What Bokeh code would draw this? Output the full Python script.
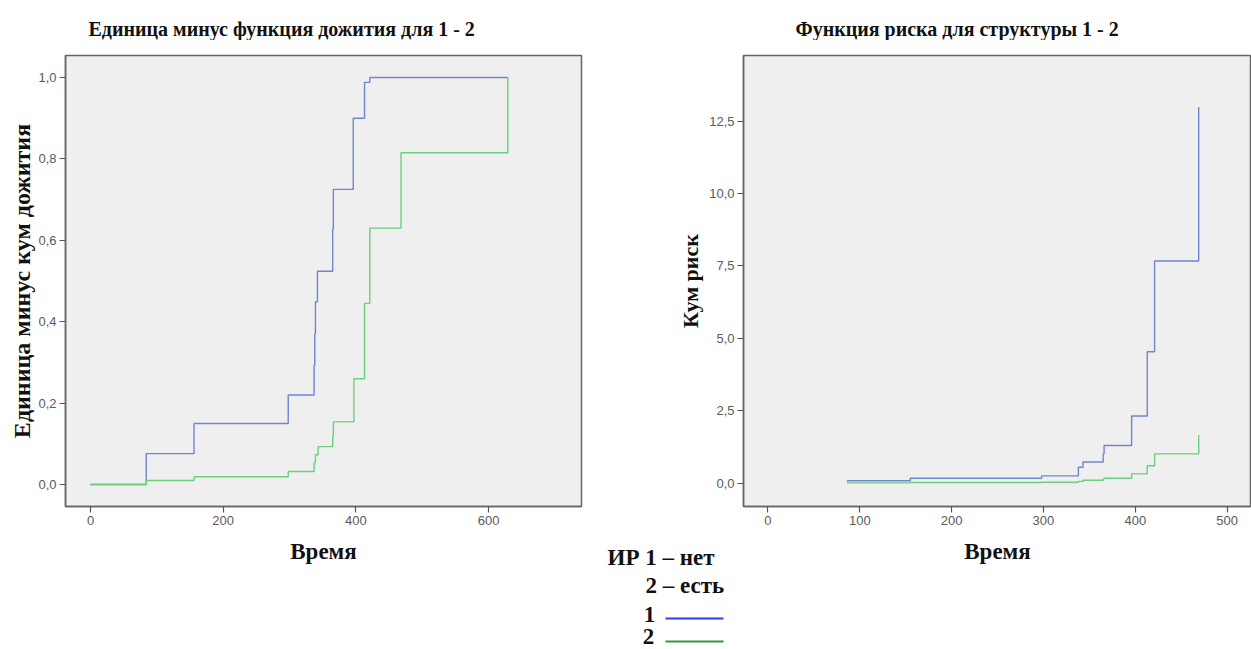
from bokeh.plotting import figure
from bokeh.models import Range1d, FixedTicker, CustomJSTickFormatter
from bokeh.layouts import row, column
from bokeh.core.properties import value
from bokeh.embed import file_html
from bokeh.resources import INLINE

# ---- data ----
left_title = "Единица минус функция дожития для 1 - 2"
right_title = "Функция риска для структуры 1 - 2"
left_ylabel = "Единица минус кум дожития"
right_ylabel = "Кум риск"
xlabel = "Время"

surv_t1 = [0, 84, 156, 298, 337, 338, 339, 342, 365, 366, 396, 413, 421, 629]
surv_v1 = [0.0, 0.076, 0.150, 0.220, 0.293, 0.370, 0.449, 0.524, 0.628, 0.725, 0.900, 0.988, 1.0, 1.0]
surv_t2 = [0, 84, 156, 298, 337, 339, 343, 365, 366, 397, 413, 421, 468, 629]
surv_v2 = [0.0, 0.010, 0.019, 0.032, 0.054, 0.073, 0.093, 0.118, 0.154, 0.260, 0.445, 0.630, 0.815, 1.0]

haz_t1 = [86, 155, 298, 338, 343, 365, 366, 396, 413, 421, 469]
haz_v1 = [0.08, 0.17, 0.25, 0.55, 0.73, 1.01, 1.30, 2.32, 4.54, 7.67, 12.99]
haz_t2 = [86, 155, 298, 338, 343, 365, 366, 396, 413, 421, 469]
haz_v2 = [0.01, 0.02, 0.03, 0.06, 0.10, 0.13, 0.17, 0.32, 0.60, 1.01, 1.66]

left_xticks = [0, 200, 400, 600]
left_yticks = [0.0, 0.2, 0.4, 0.6, 0.8, 1.0]
right_xticks = [0, 100, 200, 300, 400, 500]
right_yticks = [0.0, 2.5, 5.0, 7.5, 10.0, 12.5]

legend_head = "ИР 1 – нет"
legend_head2 = "2 – есть"
groups = ["1", "2"]

# ---- styles ----
BLUE = "#7085cf"
GREEN = "#6ccf7c"
LEG_COLORS = ["#2f3fe6", "#2e9a3c"]
SERIF = "Liberation Serif"
SANS = "Liberation Sans"
comma_fmt = CustomJSTickFormatter(code="return tick.toFixed(1).replace('.', ',');")
TOP = 40          # height of the title strip
H = 600           # height of the chart row


def bare(p):
    p.axis.visible = False
    p.grid.visible = False
    p.background_fill_alpha = 0
    p.border_fill_alpha = 0
    p.outline_line_color = None


def style(p, xt, yt, yfmt, label_size):
    p.background_fill_color = "#efefef"
    p.border_fill_color = "white"
    p.outline_line_color = "#666666"
    p.outline_line_width = 1.5
    p.xgrid.visible = False
    p.ygrid.visible = False
    p.xaxis.ticker = FixedTicker(ticks=xt)
    p.yaxis.ticker = FixedTicker(ticks=yt)
    p.yaxis.formatter = yfmt
    for ax in (p.xaxis[0], p.yaxis[0]):
        ax.axis_line_color = "#666666"
        ax.axis_line_width = 1.5
        ax.major_tick_line_color = "#555555"
        ax.major_tick_line_width = 1.2
        ax.major_tick_out = 6
        ax.major_tick_in = 0
        ax.minor_tick_line_color = None
        ax.major_label_text_font = SANS
        ax.major_label_text_font_size = "13px"
        ax.major_label_text_color = "#5a5a5a"
        ax.axis_label_text_font = SERIF
        ax.axis_label_text_font_style = "bold"
        ax.axis_label_text_font_size = "23px"
        ax.axis_label_text_color = "#111111"
        ax.major_label_standoff = 3
    p.yaxis.axis_label_text_font_size = label_size


# title strip
tb = figure(width=1251, height=TOP, output_backend="svg", toolbar_location=None,
            x_range=Range1d(0, 1251), y_range=Range1d(TOP, 0), min_border=0)
bare(tb)
ttl = dict(text_font=value(SERIF), text_font_style="bold", text_font_size="20px",
           text_color="#111111", text_baseline="middle", text_align="left")
tb.text(x=[88, 795], y=[28, 28], text=[left_title, right_title], **ttl)

# left figure
p1 = figure(width=605, height=H, output_backend="svg", toolbar_location=None,
            x_range=Range1d(-37.7, 740), y_range=Range1d(-0.054, 1.054),
            min_border_left=65, min_border_right=24, min_border_top=52 - TOP,
            min_border_bottom=TOP + H - 506,
            x_axis_label=xlabel, y_axis_label=left_ylabel)
style(p1, left_xticks, left_yticks, comma_fmt, "24px")
p1.xaxis.axis_label_standoff = 11
p1.yaxis.axis_label_standoff = 0
p1.step(surv_t1, surv_v1, mode="after", line_color=BLUE, line_width=1.4)
p1.step(surv_t2, surv_v2, mode="after", line_color=GREEN, line_width=1.4)

# right figure
p2 = figure(width=646, height=H, output_backend="svg", toolbar_location=None,
            x_range=Range1d(-26.6, 526.5), y_range=Range1d(-0.807, 14.77),
            min_border_left=138, min_border_right=0, min_border_top=55 - TOP,
            min_border_bottom=TOP + H - 507,
            x_axis_label=xlabel, y_axis_label=right_ylabel)
style(p2, right_xticks, right_yticks, comma_fmt, "22px")
p2.xaxis.axis_label_standoff = 11
p2.yaxis.axis_label_standoff = 3
p2.step(haz_t1, haz_v1, mode="after", line_color=BLUE, line_width=1.4)
p2.step(haz_t2, haz_v2, mode="after", line_color=GREEN, line_width=1.4)

# legend figure (overlaps the bottom of the chart row)
LW, LH = 130, 104
leg = figure(width=LW, height=LH, output_backend="svg", toolbar_location=None,
             x_range=Range1d(0, LW), y_range=Range1d(LH, 0), min_border=0)
bare(leg)
tkw = dict(text_font=value(SERIF), text_font_style="bold", text_font_size="23px",
           text_color="#111111", text_baseline="middle")
leg.text(x=[7], y=[12], text=[legend_head], text_align="left", **tkw)
leg.text(x=[45], y=[40], text=[legend_head2], text_align="left", **tkw)
leg.text(x=[49, 48], y=[69, 91], text=groups, text_align="center", **tkw)
leg.line(x=[65, 123], y=[73, 73], line_color=LEG_COLORS[0], line_width=2)
leg.line(x=[65, 123], y=[96, 96], line_color=LEG_COLORS[1], line_width=2)
leg.margin = (545 - (TOP + H), 0, 0, 600)

layout = column(tb, row(p1, p2, spacing=0), leg, spacing=0)
open("out.html", "w").write(file_html(layout, INLINE))
